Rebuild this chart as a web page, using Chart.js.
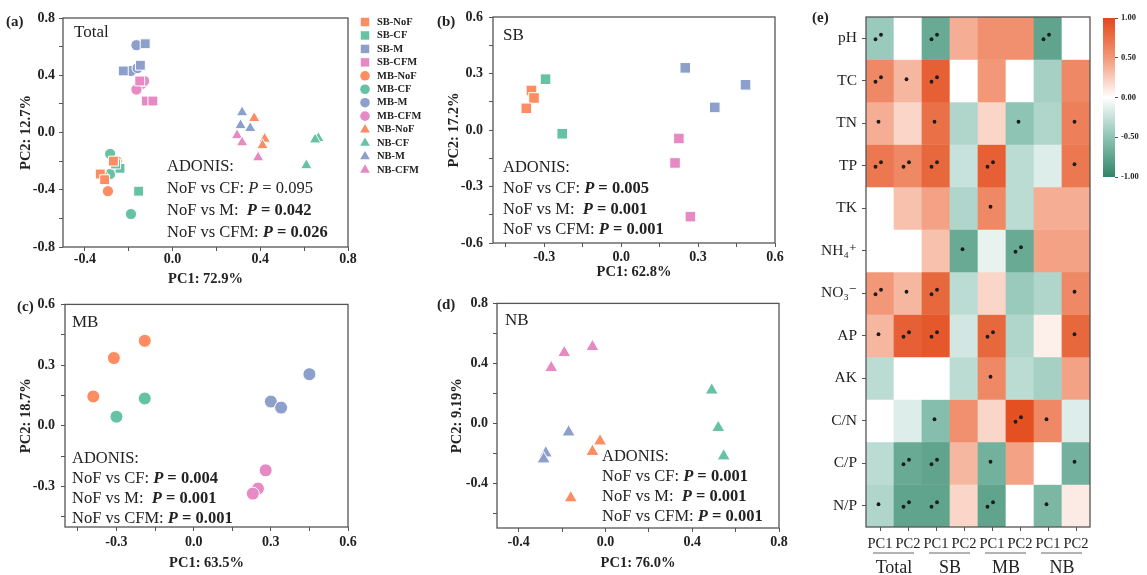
<!DOCTYPE html>
<html>
<head>
<meta charset="utf-8">
<script src="https://cdn.jsdelivr.net/npm/chart.js@4.4.1/dist/chart.umd.min.js"></script>
<style>
  html, body { margin: 0; padding: 0; background: #fff; }
  #page { position: relative; width: 1147px; height: 575px; overflow: hidden; }
  #page canvas { position: absolute; }
</style>
</head>
<body>
<div id="page">
  <canvas id="pcaTotal" width="440" height="290" style="left:0;top:0"></canvas>
  <canvas id="pcaSB" width="370" height="290" style="left:420px;top:0"></canvas>
  <canvas id="pcaMB" width="420" height="285" style="left:0;top:290px"></canvas>
  <canvas id="pcaNB" width="370" height="285" style="left:420px;top:290px"></canvas>
  <canvas id="heat" width="357" height="575" style="left:790px;top:0"></canvas>
  <canvas id="colorbar" width="52" height="190" style="left:1095px;top:0"></canvas>
</div>
<script>
const SERIF = "'Liberation Serif', 'Times New Roman', 'DejaVu Serif', serif";
const INK = '#222';
const FRAME = '#555';

// groups: soil layer (SB/MB/NB) x fertilisation
const groupNames = ['SB-NoF', 'SB-CF', 'SB-M', 'SB-CFM', 'MB-NoF', 'MB-CF', 'MB-M', 'MB-CFM',
                    'NB-NoF', 'NB-CF', 'NB-M', 'NB-CFM'];
const treatmentColors = ['#FC8D62', '#66C2A5', '#8DA0CB', '#E78AC3'];
const layerMarkers = ['rect', 'circle', 'triangle'];

// (a) Total, one row per group (same order as groupNames)
const totalPC1 = [
  [-0.33, -0.27, -0.31], [-0.24, -0.155, -0.26], [-0.125, -0.225, -0.147], [-0.12, -0.09, -0.15],
  [-0.295, -0.255, -0.32], [-0.285, -0.285, -0.19], [-0.165, -0.19, -0.16], [-0.14, -0.13, -0.165],
  [0.372, 0.42, 0.41], [0.665, 0.65, 0.61], [0.317, 0.31, 0.354], [0.294, 0.317, 0.39]
];
const totalPC2 = [
  [-0.29, -0.20, -0.33], [-0.25, -0.41, -0.22], [0.62, 0.43, 0.47], [0.22, 0.22, 0.36],
  [-0.41, -0.20, -0.30], [-0.15, -0.29, -0.57], [0.61, 0.43, 0.45], [0.34, 0.36, 0.30],
  [0.10, -0.045, -0.09], [-0.04, -0.05, -0.23], [0.14, 0.05, 0.03], [-0.02, -0.07, -0.175]
];
// (b) SB, (c) MB, (d) NB : rows NoF, CF, M, CFM
const sbPC1 = [[-0.35, -0.34, -0.37], [-0.295, -0.23], [0.25, 0.485, 0.365], [0.225, 0.21, 0.27]];
const sbPC2 = [[0.21, 0.17, 0.115], [0.27, -0.02], [0.33, 0.24, 0.12], [-0.045, -0.175, -0.46]];
const mbPC1 = [[-0.19, -0.31, -0.39], [-0.19, -0.30], [0.45, 0.30, 0.34], [0.28, 0.25, 0.23]];
const mbPC2 = [[0.42, 0.335, 0.145], [0.135, 0.045], [0.255, 0.12, 0.09], [-0.22, -0.31, -0.335]];
const nbPC1 = [[-0.025, -0.06, -0.16], [0.49, 0.52, 0.545], [-0.17, -0.275, -0.285], [-0.25, -0.19, -0.06]];
const nbPC2 = [[-0.12, -0.19, -0.50], [0.22, -0.03, -0.22], [-0.06, -0.20, -0.24], [0.37, 0.47, 0.51]];

// ADONIS results
const comparisons = ['NoF vs CF: ', 'NoF vs M:  ', 'NoF vs CFM: '];
const totalP = ['0.095', '0.042', '0.026'];
const totalPBold = [false, true, true];
const sbP = ['0.005', '0.001', '0.001'];
const mbP = ['0.004', '0.001', '0.001'];
const nbP = ['0.001', '0.001', '0.001'];
const allBold = [true, true, true];

// axis ticks
const ticks02 = [-0.8, -0.6, -0.4, -0.2, 0, 0.2, 0.4, 0.6, 0.8];
const major04 = [-0.8, -0.4, 0, 0.4, 0.8];
const ticks015 = [-0.6, -0.45, -0.3, -0.15, 0, 0.15, 0.3, 0.45, 0.6];
const major03 = [-0.6, -0.3, 0, 0.3, 0.6];

// (e) correlation heatmap
const soilProps = ['pH', 'TC', 'TN', 'TP', 'TK', 'NH₄⁺', 'NO₃⁻', 'AP', 'AK', 'C/N', 'C/P', 'N/P'];
const pcLabels = ['PC1', 'PC2', 'PC1', 'PC2', 'PC1', 'PC2', 'PC1', 'PC2'];
const habitats = ['Total', 'SB', 'MB', 'NB'];
const corrMatrix = [
  [-0.45, 0, -0.7, 0.4, 0.55, 0.55, -0.75, 0],
  [0.6, 0.35, 0.85, 0, 0.5, 0, -0.4, 0.6],
  [0.4, 0.2, 0.75, -0.35, 0.2, -0.5, -0.35, 0.65],
  [0.7, 0.6, 0.8, -0.25, 0.85, -0.3, -0.15, 0.7],
  [0, 0.3, 0.45, -0.35, 0.6, -0.3, 0.4, 0.4],
  [0, 0, 0.3, -0.7, -0.1, -0.7, 0.45, 0.45],
  [0.5, 0.35, 0.8, -0.3, 0.2, -0.45, -0.35, 0.6],
  [0.35, 0.85, 0.9, -0.2, 0.8, -0.35, 0.08, 0.8],
  [-0.3, 0, 0, -0.3, 0.6, -0.3, -0.4, 0.45],
  [0, -0.15, -0.55, 0.55, 0.2, 0.95, 0.6, -0.15],
  [-0.3, -0.7, -0.75, 0.35, -0.65, 0.45, 0, -0.65],
  [-0.35, -0.75, -0.75, 0.2, -0.75, 0, -0.6, 0.1]
];
const sigMatrix = [
  ['**', '', '**', '', '', '', '**', ''],
  ['**', '*', '**', '', '', '', '', ''],
  ['*', '', '*', '', '', '*', '', '*'],
  ['**', '**', '**', '', '**', '', '', '*'],
  ['', '', '', '', '*', '', '', ''],
  ['', '', '', '*', '', '**', '', ''],
  ['**', '*', '**', '', '', '', '', '*'],
  ['*', '**', '**', '', '**', '', '', '*'],
  ['', '', '', '', '*', '', '', ''],
  ['', '', '*', '', '', '**', '*', ''],
  ['', '**', '**', '', '*', '', '', '*'],
  ['*', '**', '**', '', '**', '', '*', '']
];
const colorbarTicks = [-1, -0.5, 0, 0.5, 1];

// diverging palette green - white - orange
const paletteStops = [
  [-1, [50, 132, 102]], [-0.5, [142, 196, 180]], [0, [255, 255, 255]],
  [0.5, [242, 152, 120]], [1, [226, 72, 24]]
];
function corrColor(v) {
  for (let i = 1; i < paletteStops.length; i++) {
    const [v0, c0] = paletteStops[i - 1], [v1, c1] = paletteStops[i];
    if (v <= v1) {
      const t = (v - v0) / (v1 - v0);
      return 'rgb(' + c0.map((c, k) => Math.round(c + (c1[k] - c) * t)).join(',') + ')';
    }
  }
  return 'rgb(' + paletteStops[paletteStops.length - 1][1].join(',') + ')';
}

const isMajor = (v, list) => list.some(m => Math.abs(m - v) < 1e-9);

// box around the plot area
const frame = {
  id: 'frame',
  afterDatasetsDraw(chart) {
    const {ctx, chartArea: a} = chart;
    ctx.save();
    ctx.strokeStyle = FRAME;
    ctx.lineWidth = 1.3;
    ctx.strokeRect(a.left, a.top, a.right - a.left, a.bottom - a.top);
    ctx.restore();
  }
};

// panel letter, title and ADONIS block
const panelText = {
  id: 'panelText',
  afterDatasetsDraw(chart, args, o) {
    const {ctx, chartArea: a} = chart;
    ctx.save();
    ctx.fillStyle = INK;
    ctx.textBaseline = 'middle';
    ctx.textAlign = 'left';
    ctx.font = `bold 15px ${SERIF}`;
    ctx.fillText(o.letter, o.letterX, o.letterY);
    ctx.font = `17px ${SERIF}`;
    ctx.fillText(o.title, a.left + o.titleDx, a.top + o.titleDy);
    const size = 16.5;
    const x0 = a.left + o.adonisDx;
    let y = a.top + o.adonisDy;
    ctx.font = `${size}px ${SERIF}`;
    ctx.fillText('ADONIS:', x0, y);
    o.pValues.forEach((p, i) => {
      y += o.adonisStep;
      let x = x0;
      const b = o.pBold[i] ? 'bold ' : '';
      ctx.font = `${size}px ${SERIF}`;
      ctx.fillText(comparisons[i], x, y);
      x += ctx.measureText(comparisons[i]).width;
      ctx.font = `italic ${b}${size}px ${SERIF}`;
      ctx.fillText('P', x, y);
      x += ctx.measureText('P').width;
      ctx.font = `${b}${size}px ${SERIF}`;
      ctx.fillText(' = ' + p, x, y);
    });
    ctx.restore();
  }
};

// legend of panel (a), to the right of the plot
const groupLegend = {
  id: 'groupLegend',
  afterDraw(chart, args, o) {
    const {ctx, chartArea: a} = chart;
    const radius = {rect: 6, circle: 4.8, triangle: 5.6};
    ctx.save();
    chart.data.datasets.forEach((ds, i) => {
      const x = a.right + o.dx;
      const y = a.top + o.dy + i * o.step;
      ctx.fillStyle = ds.backgroundColor;
      Chart.helpers.drawPoint(ctx, {pointStyle: ds.pointStyle, radius: radius[ds.pointStyle], rotation: 0, borderWidth: 0}, x, y);
      ctx.fillStyle = INK;
      ctx.font = `bold 10.5px ${SERIF}`;
      ctx.textBaseline = 'middle';
      ctx.fillText(ds.label, x + 12, y);
    });
    ctx.restore();
  }
};

function pcaPanel(id, groupIdx, pc1, pc2, opt) {
  const datasets = groupIdx.map((g, k) => {
    const style = layerMarkers[Math.floor(g / 4)];
    return {
      label: groupNames[g],
      data: pc1[k].map((x, i) => ({x: x, y: pc2[k][i]})),
      backgroundColor: treatmentColors[g % 4],
      borderColor: '#fff',
      borderWidth: 1,
      pointStyle: style,
      pointRadius: opt.radius[style]
    };
  });
  const tickFont = {family: SERIF, size: 14, weight: 'bold'};
  const titleFont = {family: SERIF, size: 14.5, weight: 'bold'};
  const plugins = [frame, panelText];
  if (opt.legend) plugins.push(groupLegend);
  new Chart(document.getElementById(id), {
    type: 'scatter',
    data: {datasets},
    plugins,
    options: {
      responsive: false,
      animation: false,
      events: [],
      layout: {padding: {top: opt.top, right: opt.right, left: 0, bottom: 0}},
      plugins: {
        legend: {display: false},
        tooltip: {enabled: false},
        panelText: opt.text,
        groupLegend: opt.legend || {}
      },
      scales: {
        x: {
          type: 'linear', min: opt.xMin, max: opt.xMax,
          afterBuildTicks: s => { s.ticks = opt.xTicks.map(v => ({value: v})); },
          afterFit: s => { s.height = opt.xH; },
          ticks: {
            callback: v => isMajor(v, opt.xMajor) ? v.toFixed(1) : '',
            font: tickFont, color: INK, padding: opt.xPad, autoSkip: false, maxRotation: 0
          },
          grid: {drawOnChartArea: false, tickLength: 4, color: FRAME},
          border: {display: false},
          title: {display: true, text: opt.xTitle, font: titleFont, color: INK, padding: {top: 0, bottom: opt.xTitlePad}}
        },
        y: {
          type: 'linear', min: opt.yMin, max: opt.yMax,
          afterBuildTicks: s => { s.ticks = opt.yTicks.map(v => ({value: v})); },
          afterFit: s => { s.width = opt.yW; },
          ticks: {
            callback: v => isMajor(v, opt.yMajor) ? v.toFixed(1) : '',
            font: tickFont, color: INK, padding: opt.yPad, autoSkip: false
          },
          grid: {drawOnChartArea: false, tickLength: 4, color: FRAME},
          border: {display: false},
          title: {display: true, text: opt.yTitle, font: titleFont, color: INK, padding: {top: opt.yTitlePad, bottom: 0}}
        }
      }
    }
  });
}

pcaPanel('pcaTotal', [0, 1, 2, 3, 4, 5, 6, 7, 8, 9, 10, 11], totalPC1, totalPC2, {
  xMin: -0.5, xMax: 0.8, yMin: -0.8, yMax: 0.8,
  xTicks: ticks02.slice(2), xMajor: major04, yTicks: ticks02, yMajor: major04,
  xTitle: 'PC1: 72.9%', yTitle: 'PC2: 12.7%',
  top: 18, right: 92, xH: 43, yW: 63, xPad: 0, yPad: 4, xTitlePad: 2, yTitlePad: 18,
  radius: {rect: 7, circle: 5.6, triangle: 6.6},
  legend: {dx: 17, dy: 4, step: 13.45},
  text: {letter: '(a)', letterX: 6, letterY: 22, title: 'Total', titleDx: 11, titleDy: 15,
         adonisDx: 104, adonisDy: 149, adonisStep: 22, pValues: totalP, pBold: totalPBold}
});

pcaPanel('pcaSB', [0, 1, 2, 3], sbPC1, sbPC2, {
  xMin: -0.5, xMax: 0.6, yMin: -0.6, yMax: 0.6,
  xTicks: ticks015.slice(1), xMajor: major03, yTicks: ticks015, yMajor: major03,
  xTitle: 'PC1: 62.8%', yTitle: 'PC2: 17.2%',
  top: 17, right: 15, xH: 47, yW: 73, xPad: 2, yPad: 6, xTitlePad: 9, yTitlePad: 26,
  radius: {rect: 7.5, circle: 6, triangle: 7},
  text: {letter: '(b)', letterX: 17, letterY: 22, title: 'SB', titleDx: 10, titleDy: 19,
         adonisDx: 10, adonisDy: 151, adonisStep: 20.7, pValues: sbP, pBold: allBold}
});

pcaPanel('pcaMB', [4, 5, 6, 7], mbPC1, mbPC2, {
  xMin: -0.5, xMax: 0.6, yMin: -0.5, yMax: 0.6,
  xTicks: ticks015.slice(1), xMajor: major03, yTicks: ticks015.slice(1), yMajor: major03,
  xTitle: 'PC1: 63.5%', yTitle: 'PC2: 18.7%',
  top: 9, right: 72, xH: 48, yW: 65, xPad: 3, yPad: 6, xTitlePad: 3, yTitlePad: 18,
  radius: {rect: 7.5, circle: 6.5, triangle: 7},
  text: {letter: '(c)', letterX: 17, letterY: 17, title: 'MB', titleDx: 7, titleDy: 18,
         adonisDx: 7, adonisDy: 154, adonisStep: 20, pValues: mbP, pBold: allBold}
});

pcaPanel('pcaNB', [8, 9, 10, 11], nbPC1, nbPC2, {
  xMin: -0.5, xMax: 0.8, yMin: -0.7, yMax: 0.8,
  xTicks: ticks02.slice(2), xMajor: major04, yTicks: ticks02.slice(1), yMajor: major04,
  xTitle: 'PC1: 76.0%', yTitle: 'PC2: 9.19%',
  top: 10, right: 11, xH: 47, yW: 77, xPad: 2, yPad: 5, xTitlePad: 3, yTitlePad: 29,
  radius: {rect: 7.5, circle: 6, triangle: 7.6},
  text: {letter: '(d)', letterX: 17, letterY: 15, title: 'NB', titleDx: 8, titleDy: 17,
         adonisDx: 105, adonisDy: 153, adonisStep: 20, pValues: nbP, pBold: allBold}
});

// significance marks on the heatmap
const sigDots = {
  id: 'sigDots',
  afterDatasetsDraw(chart) {
    const {ctx, scales: {x, y}} = chart;
    ctx.save();
    ctx.fillStyle = '#1c1c1c';
    sigMatrix.forEach((row, r) => row.forEach((s, c) => {
      if (!s) return;
      const cx = x.getPixelForValue(c), cy = y.getPixelForValue(r);
      const pts = s === '**' ? [[-4.5, 1], [1, -3.5]] : [[-1.5, -1.5]];
      pts.forEach(([dx, dy]) => {
        ctx.beginPath();
        ctx.arc(cx + dx, cy + dy, 1.9, 0, Math.PI * 2);
        ctx.fill();
      });
    }));
    ctx.restore();
  }
};

// habitat group labels under the PC labels, plus panel letter
const habitatLabels = {
  id: 'habitatLabels',
  afterDraw(chart) {
    const {ctx, scales: {x}, chartArea: a} = chart;
    ctx.save();
    ctx.fillStyle = INK;
    ctx.strokeStyle = '#666';
    ctx.lineWidth = 1;
    ctx.textAlign = 'center';
    ctx.textBaseline = 'middle';
    ctx.font = `18px ${SERIF}`;
    habitats.forEach((h, g) => {
      const x0 = x.getPixelForValue(2 * g), x1 = x.getPixelForValue(2 * g + 1);
      ctx.beginPath();
      ctx.moveTo(x0 - 7, a.bottom + 26);
      ctx.lineTo(x1 + 6, a.bottom + 26);
      ctx.stroke();
      ctx.fillText(h, (x0 + x1) / 2, a.bottom + 41);
    });
    ctx.textAlign = 'left';
    ctx.font = `bold 15px ${SERIF}`;
    ctx.fillText('(e)', 22, 18);
    ctx.restore();
  }
};

new Chart(document.getElementById('heat'), {
  type: 'bar',
  data: {
    labels: pcLabels,
    datasets: soilProps.map((p, r) => ({
      label: p,
      data: corrMatrix[r].map(() => [r - 0.5, r + 0.5]),
      backgroundColor: corrMatrix[r].map(corrColor),
      borderWidth: 0,
      grouped: false,
      barPercentage: 1,
      categoryPercentage: 1
    }))
  },
  plugins: [sigDots, frame, habitatLabels],
  options: {
    responsive: false,
    animation: false,
    events: [],
    layout: {padding: {top: 17, right: 57, left: 0, bottom: 0}},
    plugins: {legend: {display: false}, tooltip: {enabled: false}},
    scales: {
      x: {
        afterFit: s => { s.height = 48; },
        ticks: {font: {family: SERIF, size: 14.5}, color: INK, padding: 4, autoSkip: false, maxRotation: 0},
        grid: {offset: false, drawOnChartArea: false, tickLength: 4, color: FRAME},
        border: {display: false}
      },
      y: {
        type: 'linear', min: -0.5, max: soilProps.length - 0.5, reverse: true,
        afterBuildTicks: s => { s.ticks = soilProps.map((p, i) => ({value: i})); },
        afterFit: s => { s.width = 76; },
        ticks: {callback: v => soilProps[v], font: {family: SERIF, size: 15.5}, color: INK, padding: 5, autoSkip: false},
        grid: {drawOnChartArea: false, tickLength: 4, color: FRAME},
        border: {display: false}
      }
    }
  }
});

new Chart(document.getElementById('colorbar'), {
  type: 'bar',
  data: {
    labels: [''],
    datasets: [{
      data: [[colorbarTicks[0], colorbarTicks[colorbarTicks.length - 1]]],
      backgroundColor: ctx => {
        const a = ctx.chart.chartArea;
        if (!a) return null;
        const g = ctx.chart.ctx.createLinearGradient(0, a.bottom, 0, a.top);
        paletteStops.forEach(([v, c]) => g.addColorStop((v + 1) / 2, 'rgb(' + c.join(',') + ')'));
        return g;
      },
      borderWidth: 0,
      barPercentage: 1,
      categoryPercentage: 1
    }]
  },
  options: {
    responsive: false,
    animation: false,
    events: [],
    layout: {padding: {top: 18, bottom: 13, left: 8, right: 0}},
    plugins: {legend: {display: false}, tooltip: {enabled: false}},
    scales: {
      x: {display: false},
      y: {
        position: 'right', min: -1, max: 1,
        afterBuildTicks: s => { s.ticks = colorbarTicks.map(v => ({value: v})); },
        afterFit: s => { s.width = 32; },
        ticks: {callback: v => v.toFixed(2), font: {family: SERIF, size: 8.5, weight: 'bold'}, color: INK, padding: 3},
        grid: {drawOnChartArea: false, tickLength: 3, color: FRAME},
        border: {display: false}
      }
    }
  }
});
</script>
</body>
</html>
